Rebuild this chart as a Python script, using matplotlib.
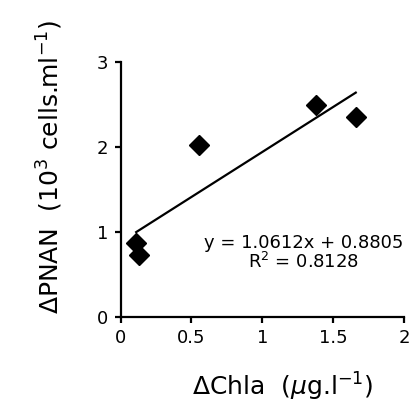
import numpy as np
import matplotlib
matplotlib.use('Agg')
import matplotlib.pyplot as plt

# data
chla = [0.11, 0.13, 0.55, 1.38, 1.66]
pnan = [0.87, 0.73, 2.02, 2.50, 2.35]
slope = 1.0612
intercept = 0.8805
r2 = 0.8128
xticks = [0, 0.5, 1, 1.5, 2]
yticks = [0, 1, 2, 3]

plt.rcParams['font.family'] = 'DejaVu Sans'

fig = plt.figure(figsize=(4.13, 4.07), dpi=100)
ax = fig.add_axes([0.292, 0.222, 0.686, 0.625])

ax.plot(chla, pnan, linestyle='none', marker='D', markersize=10, color='black')

# regression line over the data range
fit_x = np.array([min(chla), max(chla)])
ax.plot(fit_x, slope * fit_x + intercept, color='black', linewidth=1.6)

ax.text(1.29, 0.87, 'y = %.4fx + %.4f' % (slope, intercept), ha='center', va='center', fontsize=13)
ax.text(1.29, 0.64, 'R$^{2}$ = %.4f' % r2, ha='center', va='center', fontsize=13)

ax.set_xlim(0, 2)
ax.set_ylim(0, 3)
ax.set_xticks(xticks)
ax.set_xticklabels(['0', '0.5', '1', '1.5', '2'])
ax.set_yticks(yticks)
for side in ['top', 'right']:
    ax.spines[side].set_visible(False)
for side in ['left', 'bottom']:
    ax.spines[side].set_linewidth(1.6)
ax.tick_params(direction='out', length=4, width=1.6, labelsize=13, pad=5)

fig.text(0.685, 0.05, r'$\Delta$Chla  ($\mu$g.l$^{-1}$)', ha='center', va='center', fontsize=18)
fig.text(0.121, 0.59, r'$\Delta$PNAN  (10$^{3}$ cells.ml$^{-1}$)', ha='center', va='center',
         rotation=90, fontsize=18)

fig.savefig('out.png', dpi=100)
